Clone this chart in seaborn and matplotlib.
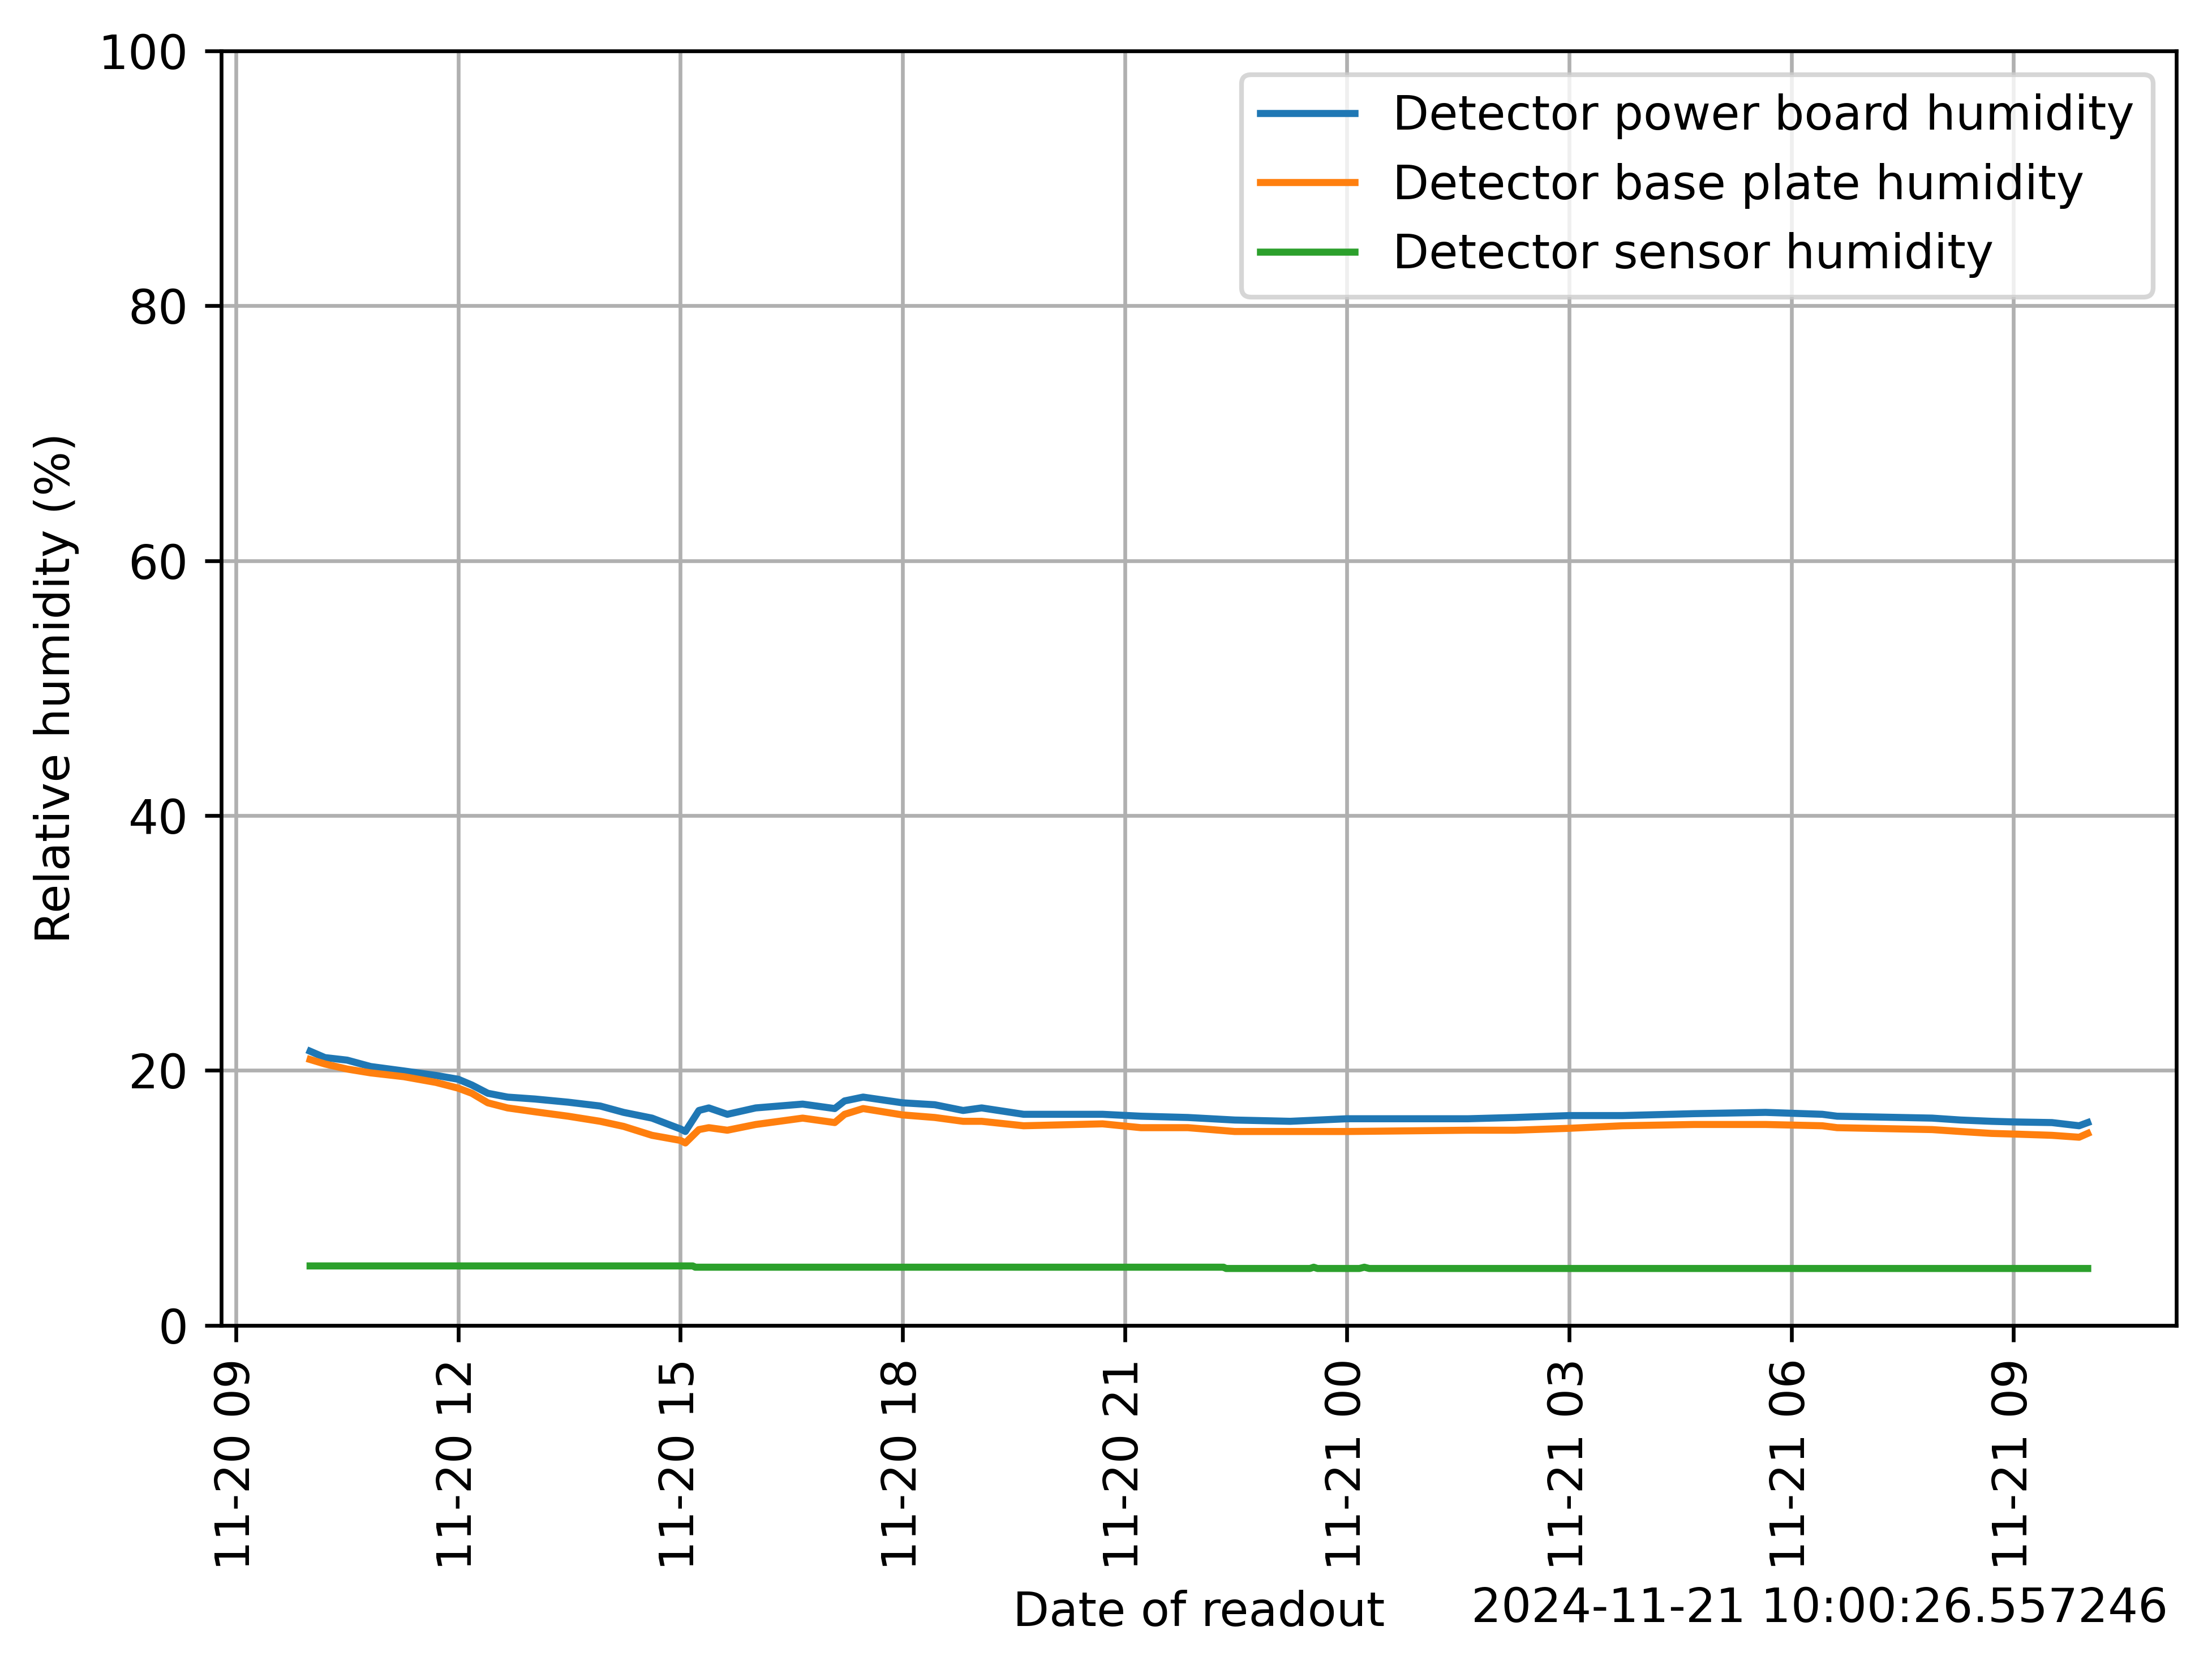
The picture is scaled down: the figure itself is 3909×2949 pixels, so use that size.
import matplotlib
matplotlib.use("Agg")
import matplotlib.pyplot as plt
import matplotlib.dates as mdates
import seaborn as sns
import pandas as pd

# ---- data ----
power_times = ["2024-11-20 10:00", "2024-11-20 10:12", "2024-11-20 10:30", "2024-11-20 10:49",
               "2024-11-20 11:16", "2024-11-20 11:42", "2024-11-20 12:00", "2024-11-20 12:11",
               "2024-11-20 12:24", "2024-11-20 12:40", "2024-11-20 13:02", "2024-11-20 13:29",
               "2024-11-20 13:55", "2024-11-20 14:14", "2024-11-20 14:37", "2024-11-20 15:00",
               "2024-11-20 15:04", "2024-11-20 15:15", "2024-11-20 15:23", "2024-11-20 15:38",
               "2024-11-20 16:01", "2024-11-20 16:39", "2024-11-20 17:05", "2024-11-20 17:13",
               "2024-11-20 17:28", "2024-11-20 18:00", "2024-11-20 18:26", "2024-11-20 18:49",
               "2024-11-20 19:04", "2024-11-20 19:38", "2024-11-20 20:42", "2024-11-20 21:13",
               "2024-11-20 21:51", "2024-11-20 22:29", "2024-11-20 23:14", "2024-11-21 00:00",
               "2024-11-21 01:38", "2024-11-21 02:16", "2024-11-21 03:00", "2024-11-21 03:43",
               "2024-11-21 04:41", "2024-11-21 05:39", "2024-11-21 06:25", "2024-11-21 06:37",
               "2024-11-21 07:54", "2024-11-21 08:17", "2024-11-21 08:42", "2024-11-21 09:00",
               "2024-11-21 09:31", "2024-11-21 09:53", "2024-11-21 10:00"]
power_rh = [21.5, 21.0, 20.8, 20.3, 19.95, 19.6, 19.3, 18.85, 18.2, 17.9, 17.75, 17.5,
            17.2, 16.7, 16.25, 15.4, 15.2, 16.85, 17.05, 16.55, 17.05, 17.35, 17.0, 17.6,
            17.9, 17.45, 17.3, 16.85, 17.05, 16.55, 16.55, 16.4, 16.3, 16.1, 16.0, 16.2,
            16.2, 16.3, 16.45, 16.45, 16.6, 16.7, 16.55, 16.4, 16.25, 16.1, 16.0, 15.95,
            15.9, 15.65, 15.9]

base_rh = [20.85, 20.5, 20.1, 19.8, 19.5, 19.05, 18.6, 18.2, 17.45, 17.05, 16.75, 16.4,
           16.0, 15.6, 14.9, 14.5, 14.3, 15.35, 15.5, 15.3, 15.75, 16.25, 15.9, 16.55,
           17.0, 16.5, 16.3, 16.0, 16.0, 15.65, 15.8, 15.5, 15.5, 15.2, 15.2, 15.2,
           15.3, 15.3, 15.45, 15.65, 15.75, 15.75, 15.65, 15.5, 15.35, 15.2, 15.05, 15.0,
           14.9, 14.75, 15.05]

sensor_times = ["2024-11-20 10:00", "2024-11-20 15:10", "2024-11-20 15:12", "2024-11-20 22:20",
                "2024-11-20 22:22", "2024-11-20 23:30", "2024-11-20 23:33", "2024-11-20 23:36",
                "2024-11-21 00:10", "2024-11-21 00:14", "2024-11-21 00:18", "2024-11-21 10:00"]
sensor_rh = [4.65, 4.65, 4.55, 4.55, 4.45, 4.45, 4.55, 4.45, 4.45, 4.55, 4.45, 4.45]

labels = ["Detector power board humidity", "Detector base plate humidity",
          "Detector sensor humidity"]
readout_stamp = "2024-11-21 10:00:26.557246"

# ---- plotting ----
df_power = pd.DataFrame({"t": pd.to_datetime(power_times), "rh": power_rh})
df_base = pd.DataFrame({"t": pd.to_datetime(power_times), "rh": base_rh})
df_sensor = pd.DataFrame({"t": pd.to_datetime(sensor_times), "rh": sensor_rh})

plt.rcParams["font.family"] = ["DejaVu Sans"]
fig = plt.figure(figsize=(3909 / 600, 2949 / 600), dpi=600)
ax = fig.add_axes([0.100, 0.206, 0.884, 0.7635])

sns.lineplot(data=df_power, x="t", y="rh", ax=ax, color="#1f77b4", label=labels[0], linewidth=1.5)
sns.lineplot(data=df_base, x="t", y="rh", ax=ax, color="#ff7f0e", label=labels[1], linewidth=1.5)
sns.lineplot(data=df_sensor, x="t", y="rh", ax=ax, color="#2ca02c", label=labels[2], linewidth=1.5)

ax.set_ylim(0, 100)
ax.set_yticks([0, 20, 40, 60, 80, 100])
ax.xaxis.set_major_locator(mdates.HourLocator(byhour=[0, 3, 6, 9, 12, 15, 18, 21]))
ax.xaxis.set_major_formatter(mdates.DateFormatter("%m-%d %H"))
plt.setp(ax.get_xticklabels(), rotation=90)
ax.grid(True)
ax.set_xlabel("Date of readout")
ax.set_ylabel("Relative humidity (%)")
ax.legend(loc="upper right")
fig.text(0.980, 0.036, readout_stamp, ha="right", va="center", fontsize=10)

fig.savefig("out.png", dpi=600)
